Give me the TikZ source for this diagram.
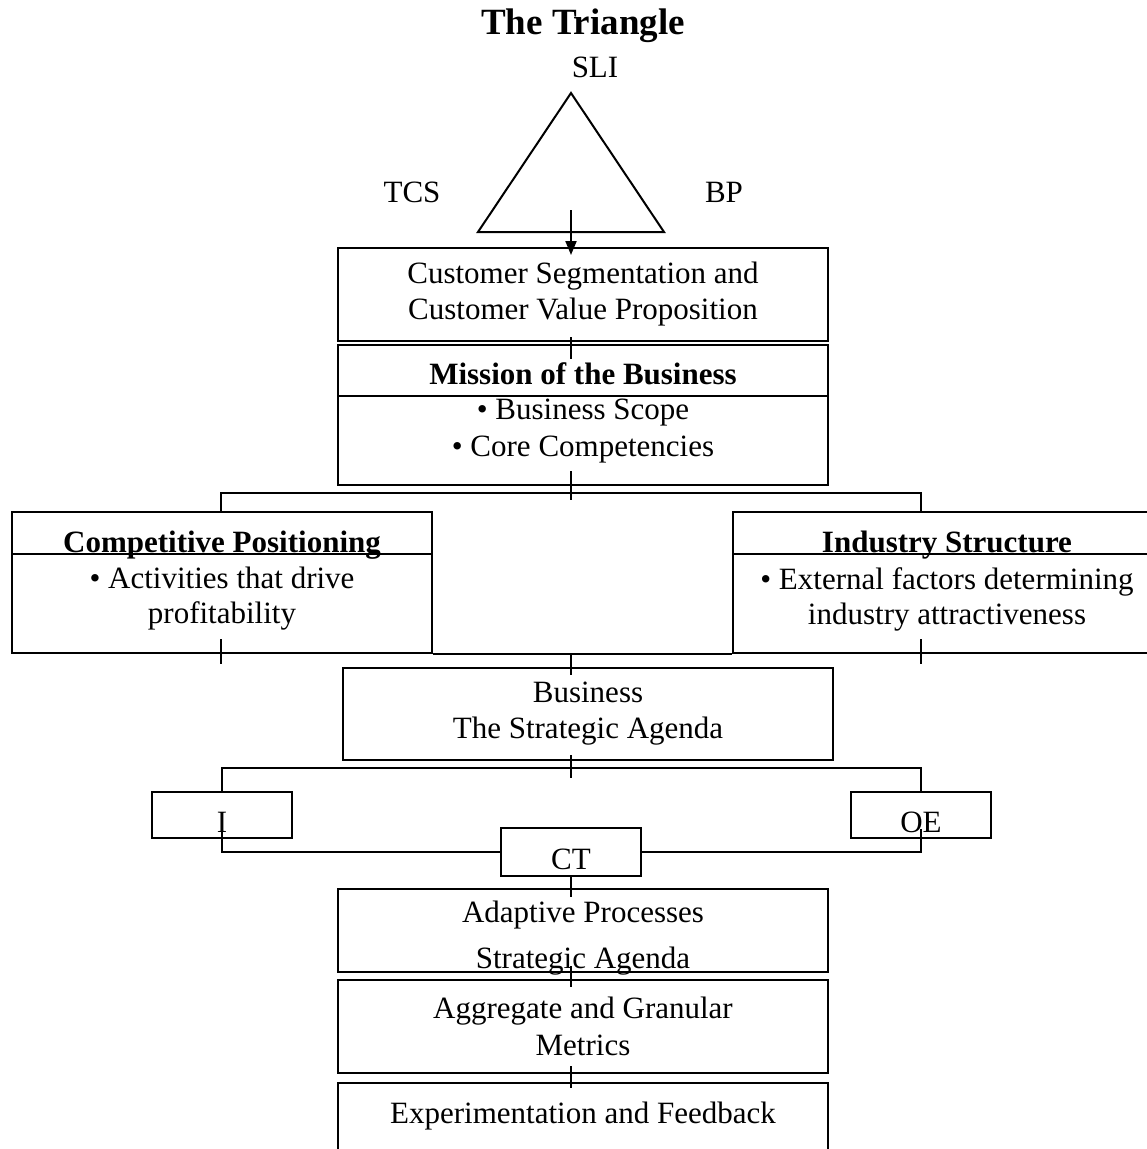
\documentclass[tikz,border=0pt]{standalone}
\usepackage{fontspec}
\setmainfont{Liberation Serif}
\usetikzlibrary{arrows.meta}

\tikzset{
  box/.style={draw, line width=2pt, align=center, inner sep=0pt},
  link/.style={line width=2pt},
  txt/.style={align=center, inner sep=0pt},
  head/.style={txt, font=\fontsize{31}{36}\selectfont\bfseries},
  small/.style={box, minimum width=140pt, text height=34pt, text depth=0pt},
}

\begin{document}
\begin{tikzpicture}[x=1pt, y=-1pt, font=\fontsize{31}{36}\selectfont]
   \useasboundingbox (0,0) rectangle (1147,1149);
   \coordinate (spine) at (571,0);
   \coordinate (lft) at (221,0);
   \coordinate (rgt) at (921,0);

   % the triangle on top
   \node[txt, font=\fontsize{37}{42}\selectfont\bfseries] (title) at (583,26) {The Triangle};
   \node[txt] (sli) at (595,67) {SLI};
   \node[txt] (tcs) at (412,192) {TCS};
   \node[txt] (bp) at (724,192) {BP};
   \draw[link] (571,93) -- (664,232) -- (478,232) -- cycle;
   \coordinate (tri) at (571,210);

   \node[box, minimum width=490pt, minimum height=93pt] (cs) at (583,294.5)
        {Customer Segmentation and\\Customer Value Proposition};

   \node[box, minimum width=490pt, minimum height=140pt] (mission) at (583,415) {};
   \draw[link] ([yshift=-52pt]mission.north west) -- ([yshift=-52pt]mission.north east);
   \node[head] (missiontitle) at (583,373.5) {Mission of the Business};
   \node[txt, font=\fontsize{31}{37}\selectfont] (missiontext) at (583,431)
        {• Business Scope\\• Core Competencies};

   % the two sides
   \node[box, minimum width=420pt, minimum height=141pt] (comp) at (222,582.5) {};
   \draw[link] ([yshift=-43pt]comp.north west) -- ([yshift=-43pt]comp.north east);
   \node[head] (comptitle) at (222,545) {Competitive Positioning};
   \node[txt, font=\fontsize{31}{35}\selectfont] (comptext) at (222,599)
        {• Activities that drive\\profitability};

   \node[box, minimum width=428pt, minimum height=141pt] (ind) at (947,582.5) {};
   \draw[link] ([yshift=-43pt]ind.north west) -- ([yshift=-43pt]ind.north east);
   \node[head] (indtitle) at (947,545) {Industry Structure};
   \node[txt, font=\fontsize{31}{35}\selectfont] (indtext) at (947,599)
        {• External factors determining\\industry attractiveness};

   \node[box, minimum width=490pt, minimum height=92pt] (business) at (588,714)
        {Business\\The Strategic Agenda};

   \node[small, minimum height=46pt] (I) at (222,815) {I};
   \node[small, minimum height=46pt] (OE) at (921,815) {OE};
   \node[small, minimum height=48pt] (CT) at (571,852) {CT};

   \node[box, minimum width=490pt, minimum height=83pt] (adaptive) at (583,930.5) {};
   \node[txt, font=\fontsize{31}{46}\selectfont] (adaptivetext) at (583,938)
        {Adaptive Processes\\Strategic Agenda};
   \node[box, minimum width=490pt, minimum height=93pt, font=\fontsize{31}{37}\selectfont]
        (aggregate) at (583,1026.5) {Aggregate and Granular\\Metrics};
   \node[box, minimum width=490pt, text height=40pt, text depth=50pt, anchor=north]
        (exp) at (583,1082) {Experimentation and Feedback};

   % connectors
   \coordinate (fork1) at (571,493);
   \coordinate (fork2) at (571,768);
   \draw[link, -{Triangle[length=14pt, width=11pt]}] (tri) -- ([yshift=-8pt]cs.north -| spine);
   \draw[link] ([yshift=5pt]cs.south -| spine) -- ([yshift=-15pt]mission.north -| spine);
   \draw[link] ([yshift=15pt]mission.south -| spine) -- ([yshift=-7pt]fork1);
   \draw[link] (comp.north -| lft) |- (fork1) -| (ind.north -| rgt);
   \draw[link] (comp.south east) -- (ind.south west);
   \draw[link] ([yshift=15pt]comp.south -| lft) -- ([yshift=-10pt]comp.south -| lft);
   \draw[link] ([yshift=15pt]ind.south -| rgt) -- ([yshift=-10pt]ind.south -| rgt);
   \draw[link] (comp.south -| spine) -- ([yshift=-8pt]business.north -| spine);
   \draw[link] ([yshift=6pt]business.south -| spine) -- ([yshift=-10pt]fork2);
   \draw[link] (I.north) |- (fork2) -| (OE.north);
   \draw[link] ([yshift=-12pt]I.center) |- (CT.west);
   \draw[link] ([yshift=-14pt]OE.center) |- (CT.east);
   \draw[link] (CT.south) -- ([yshift=-9pt]adaptive.north -| spine);
   \draw[link] ([yshift=7pt]adaptive.south -| spine) -- ([yshift=-8pt]aggregate.north -| spine);
   \draw[link] ([yshift=8pt]aggregate.south -| spine) -- ([yshift=-6pt]exp.north -| spine);
\end{tikzpicture}
\end{document}
